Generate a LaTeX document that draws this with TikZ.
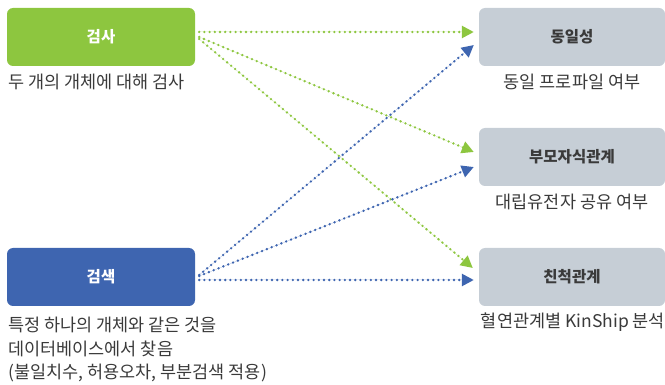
\documentclass[tikz,border=0pt]{standalone}
\usepackage{fontspec}
\setmainfont{Noto Sans CJK KR}
\usetikzlibrary{arrows.meta}
\definecolor{cgreen}{HTML}{8DC63F}
\definecolor{cblue}{HTML}{3E65B0}
\definecolor{cgray}{HTML}{C6CED6}
\definecolor{ctext}{HTML}{3A3A3A}
\tikzset{
  srcbox/.style={rounded corners=6pt, minimum width=188pt, minimum height=58pt, inner sep=0pt, text=white, font=\fontsize{15.5}{18}\selectfont\bfseries},
  dstbox/.style={rounded corners=6pt, fill=cgray, minimum width=186pt, minimum height=58pt, inner sep=0pt, text=ctext, font=\fontsize{15.5}{18}\selectfont\bfseries},
  desc/.style={inner sep=0pt, text=ctext, font=\fontsize{17.5}{23.5}\selectfont},
  conn/.style={line width=2.6pt, dash pattern=on 0pt off 5.2pt, line cap=round, -{Triangle[length=12pt,width=12pt,line cap=butt]}},
  gconn/.style={conn, draw=cgreen, fill=cgreen},
  bconn/.style={conn, draw=cblue, fill=cblue}
}
\begin{document}
\begin{tikzpicture}[x=1pt,y=-1pt]
\useasboundingbox (0,0) rectangle (665,385);
\node[srcbox, fill=cgreen] (g) at (101,37) {검사};
\node[srcbox, fill=cblue] (b) at (101,277) {검색};
\node[dstbox] (s1) at (572,37) {동일성};
\node[dstbox] (s2) at (572,157) {부모자식관계};
\node[dstbox] (s3) at (572,277) {친척관계};
\node[desc, anchor=west] (gd) at (8,82) {두 개의 개체에 대해 검사};
\node[desc, anchor=north west, align=left] (bd) at (8,317) {특정 하나의 개체와 같은 것을\\데이터베이스에서 찾음\\(불일치수, 허용오차, 부분검색 적용)};
\node[desc] (d1) at (572,82) {동일 프로파일 여부};
\node[desc] (d2) at (572,202) {대립유전자 공유 여부};
\node[desc] (d3) at (573,322) {혈연관계별 KinShip 분석};
\draw[gconn] ([xshift=4pt,yshift=5pt]g.east) -- ([xshift=-5pt,yshift=5pt]s1.west);
\draw[gconn] ([xshift=4pt,yshift=0pt]g.east) -- ([xshift=-5pt,yshift=5pt]s2.west);
\draw[gconn] ([xshift=4pt,yshift=-2pt]g.east) -- ([xshift=-6pt,yshift=9pt]s3.west);
\draw[bconn] ([xshift=4pt,yshift=2pt]b.east) -- ([xshift=-5pt,yshift=-8pt]s1.west);
\draw[bconn] ([xshift=4pt,yshift=1pt]b.east) -- ([xshift=-5pt,yshift=-10pt]s2.west);
\draw[bconn] ([xshift=4pt,yshift=-3pt]b.east) -- ([xshift=-5pt,yshift=-3pt]s3.west);
\end{tikzpicture}
\end{document}
